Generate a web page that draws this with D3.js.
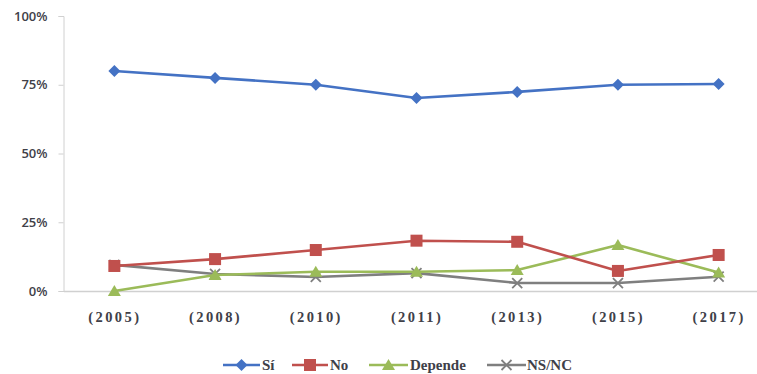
<!DOCTYPE html>
<html>
<head>
<meta charset="utf-8">
<script src="https://cdn.jsdelivr.net/npm/d3@7"></script>
<style>
  html, body { margin: 0; padding: 0; background: #fff; }
  svg { display: block; }
</style>
</head>
<body>
<svg id="chart" width="757" height="374"></svg>
<script>
// Survey years (category axis)
const years = ["(2005)", "(2008)", "(2010)", "(2011)", "(2013)", "(2015)", "(2017)"];

// Percentages per answer
const si      = [80.0, 77.5, 75.0, 70.2, 72.4, 75.0, 75.3];
const no      = [9.1, 11.6, 14.9, 18.3, 17.9, 7.3, 13.1];
const depende = [0.0, 5.8, 7.0, 7.0, 7.6, 16.7, 6.7];
const nsnc    = [9.5, 6.2, 5.1, 6.5, 2.9, 2.9, 5.2];

const seriesNames = ["Sí", "No", "Depende", "NS/NC"];
const yTicks = [0, 25, 50, 75, 100];

const series = [
  { name: seriesNames[0], values: si,      color: "#4472C4", marker: "diamond" },
  { name: seriesNames[1], values: no,      color: "#C0504D", marker: "square" },
  { name: seriesNames[2], values: depende, color: "#9BBB59", marker: "triangle" },
  { name: seriesNames[3], values: nsnc,    color: "#7F7F7F", marker: "cross" }
];

const svg = d3.select("#chart");
const plot = { left: 64, right: 769, top: 16, bottom: 291 };

const x = d3.scalePoint().domain(years).range([plot.left, plot.right]).padding(0.5);
const y = d3.scaleLinear().domain([0, 100]).range([plot.bottom, plot.top]);

const textColor = "#404048";

// Y axis
const yAxis = svg.append("g")
  .attr("transform", `translate(${plot.left - 0.5},0)`)
  .call(d3.axisLeft(y).tickValues(yTicks).tickSize(5).tickFormat(d => d + "%"));
yAxis.select(".domain").attr("stroke", "#d0d0d0").attr("stroke-width", 1);
yAxis.selectAll(".tick line").attr("stroke", "#d0d0d0");
yAxis.selectAll(".tick text")
  .attr("x", -16)
  .attr("fill", textColor)
  .style("font-family", "'Open Sans', 'Liberation Sans', sans-serif")
  .style("font-size", "13px")
  .style("font-weight", "600");

// X axis
const xAxis = svg.append("g")
  .attr("transform", `translate(0,${plot.bottom + 0.5})`)
  .call(d3.axisBottom(x).tickSize(0).tickPadding(20));
xAxis.select(".domain").attr("stroke", "#d0d0d0").attr("stroke-width", 1.5)
  .attr("d", `M${plot.left},0H${plot.right}`);
xAxis.selectAll(".tick text")
  .attr("fill", textColor)
  .style("font-family", "'Liberation Serif', 'DejaVu Serif', serif")
  .style("font-size", "14.5px")
  .style("font-weight", "bold")
  .style("letter-spacing", "2.4px");

// Marker shapes
function drawMarker(g, type, color, cx, cy) {
  if (type === "diamond") {
    g.append("path").attr("d", `M${cx},${cy - 6}L${cx + 6},${cy}L${cx},${cy + 6}L${cx - 6},${cy}Z`).attr("fill", color);
  } else if (type === "square") {
    g.append("rect").attr("x", cx - 6).attr("y", cy - 6).attr("width", 12).attr("height", 12).attr("fill", color);
  } else if (type === "triangle") {
    g.append("path").attr("d", `M${cx},${cy - 6}L${cx + 6.5},${cy + 5}L${cx - 6.5},${cy + 5}Z`).attr("fill", color);
  } else {
    g.append("path").attr("d", `M${cx - 5},${cy - 5}L${cx + 5},${cy + 5}M${cx + 5},${cy - 5}L${cx - 5},${cy + 5}`)
      .attr("stroke", color).attr("stroke-width", 1.8).attr("fill", "none");
  }
}

const line = d3.line().x((d, i) => x(years[i])).y(d => y(d));

// Draw in reverse so the blue line sits on top, gray at bottom
[...series].reverse().forEach(s => {
  const g = svg.append("g");
  g.append("path").datum(s.values).attr("d", line)
    .attr("fill", "none").attr("stroke", s.color).attr("stroke-width", 2.6)
    .attr("stroke-linejoin", "round");
  s.values.forEach((v, i) => drawMarker(g, s.marker, s.color, x(years[i]), y(v)));
});

// Legend
const legendPos = [
  { lineStart: 223, lineEnd: 260, textX: 262 },
  { lineStart: 292, lineEnd: 328, textX: 330 },
  { lineStart: 369, lineEnd: 408, textX: 410 },
  { lineStart: 487, lineEnd: 526, textX: 527 }
];
const legendY = 365;
series.forEach((s, i) => {
  const p = legendPos[i];
  const g = svg.append("g");
  g.append("line").attr("x1", p.lineStart).attr("x2", p.lineEnd)
    .attr("y1", legendY).attr("y2", legendY)
    .attr("stroke", s.color).attr("stroke-width", 2.6);
  const mx = (p.lineStart + p.lineEnd) / 2;
  drawMarker(g, s.marker, s.color, mx, legendY);
  g.append("text").attr("x", p.textX).attr("y", legendY + 5)
    .attr("fill", textColor)
    .style("font-family", "'Liberation Serif', 'DejaVu Serif', serif")
    .style("font-size", "15px")
    .style("font-weight", "bold")
    .text(s.name);
});
</script>
</body>
</html>
